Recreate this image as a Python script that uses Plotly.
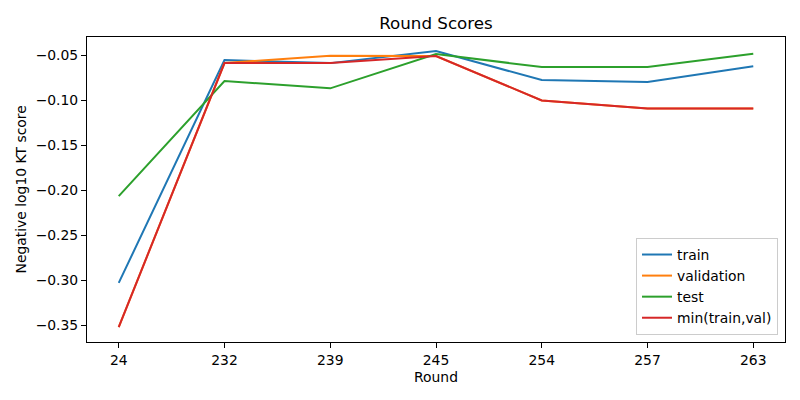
import plotly.graph_objects as go

rounds = ["24", "232", "239", "245", "254", "257", "263"]
train = [-0.303, -0.0556, -0.059, -0.0456, -0.0778, -0.080, -0.0625]
validation = [-0.352, -0.0589, -0.0508, -0.0511, -0.1004, -0.1093, -0.1093]
test = [-0.2067, -0.0789, -0.087, -0.049, -0.0633, -0.0633, -0.0486]
min_train_val = [min(a, b) for a, b in zip(train, validation)]

series = [
    ("train", train, "#1f77b4"),
    ("validation", validation, "#ff7f0e"),
    ("test", test, "#2ca02c"),
    ("min(train,val)", min_train_val, "#d62728"),
]

FS = 13.9
fig = go.Figure()
for name, vals, color in series:
    fig.add_trace(go.Scatter(x=list(range(len(rounds))), y=vals, mode="lines", name=name,
                             line=dict(color=color, width=2)))

axis_common = dict(showline=True, linecolor="black", linewidth=1, mirror=True,
                   ticks="outside", ticklen=5, tickcolor="black", showgrid=False,
                   zeroline=False, tickfont=dict(size=FS, color="black"), automargin=False)

# page body has an 8px margin, so the figure is 792x392 offset by 8px
fig.update_layout(
    width=792, height=392,
    margin=dict(l=79, r=15, t=29, b=58, autoexpand=False),
    paper_bgcolor="white", plot_bgcolor="white",
    font=dict(family="DejaVu Sans", color="black"),
    title=dict(text="Round Scores", x=0.5, xref="paper", xanchor="center",
               y=1 - 15 / 392, yanchor="middle",
               font=dict(size=16.7, color="black")),
    xaxis=dict(tickmode="array", tickvals=list(range(len(rounds))), ticktext=rounds,
               range=[-0.3, 6.3], **axis_common),
    yaxis=dict(range=[-0.3686, -0.0300], tickmode="array",
               tickvals=[-0.05, -0.10, -0.15, -0.20, -0.25, -0.30, -0.35],
               tickformat=".2f", **axis_common),
    legend=dict(x=0.99, y=0.023, xanchor="right", yanchor="bottom",
                bgcolor="rgba(255,255,255,0.8)", bordercolor="#cccccc", borderwidth=1,
                font=dict(size=FS), tracegroupgap=0),
    showlegend=True,
    annotations=[
        dict(text="Round", xref="paper", yref="paper", x=0.5, y=0, xanchor="center",
             yanchor="middle", yshift=-35, showarrow=False, font=dict(size=FS)),
        dict(text="Negative log10 KT score", xref="paper", yref="paper", x=0, y=0.5,
             xanchor="center", yanchor="middle", xshift=-67, textangle=-90,
             showarrow=False, font=dict(size=FS)),
    ],
)

fig.write_html("out.html")
